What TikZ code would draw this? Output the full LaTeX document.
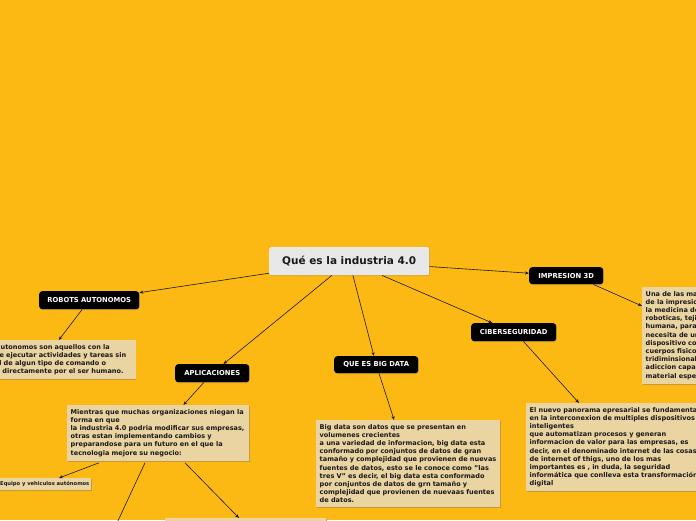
\documentclass[tikz,border=0pt]{standalone}
\usepackage{fontspec}
\setmainfont{DejaVu Sans}
\usetikzlibrary{arrows.meta,calc,shadows}
\hyphenpenalty=10000
\exhyphenpenalty=10000
\definecolor{bgc}{RGB}{253,185,19}
\definecolor{beige}{RGB}{234,212,162}
\definecolor{beigesh}{RGB}{190,150,60}
\definecolor{titlebg}{RGB}{232,232,232}
\definecolor{txt}{RGB}{25,25,25}
\tikzset{
  titlebox/.style={fill=titlebg, rounded corners=2pt, minimum width=160pt, minimum height=28pt, inner sep=0pt,
    font=\fontsize{10.5}{12}\selectfont\bfseries, text=txt,
    drop shadow={shadow xshift=0.6pt, shadow yshift=-0.8pt, fill=beigesh, opacity=0.6}},
  topic/.style={fill=black, rounded corners=3pt, inner sep=0pt, text=white,
    font=\fontsize{6.8}{7.5}\selectfont\bfseries,
    drop shadow={shadow xshift=0.6pt, shadow yshift=-0.8pt, fill=beigesh, opacity=0.8}},
  note/.style={fill=beige, anchor=north west, inner xsep=3.5pt, inner ysep=4pt, align=left, text=txt,
    font=\fontsize{6.55}{8.2}\selectfont\bfseries,
    drop shadow={shadow xshift=0.6pt, shadow yshift=-1pt, fill=beigesh, opacity=0.9}},
  conn/.style={draw=txt, line width=0.6pt, -{Stealth[length=4pt,width=3.2pt]}},
}
\begin{document}
\begin{tikzpicture}[x=1pt,y=-1pt]
\useasboundingbox (0,0) rectangle (696,520);
\fill[bgc] (0,0) rectangle (696,520);
\clip (0,0) rectangle (696,520);

% central
\node[titlebox, anchor=north west] (c) at (269,247) {Qué es la industria 4.0};

% topics
\node[topic, anchor=north west, minimum width=100pt, minimum height=18pt] (rob) at (39,291) {ROBOTS AUTONOMOS};
\node[topic, anchor=north west, minimum width=74pt, minimum height=18pt] (apl) at (175,364) {APLICACIONES};
\node[topic, anchor=north west, minimum width=84pt, minimum height=17pt] (big) at (334,356) {QUE ES BIG DATA};
\node[topic, anchor=north west, minimum width=74pt, minimum height=17pt] (imp) at (529,267) {IMPRESION 3D};
\node[topic, anchor=north west, minimum width=85pt, minimum height=18pt] (cib) at (471,323) {CIBERSEGURIDAD};

% notes
\node[note, anchor=north east, text width=177pt] (robt) at (136,340) {Los robots autonomos son aquellos con la\\
capacidad de ejecutar actividades y tareas sin\\
la necesidad de algun tipo de comando o\\
supervisado directamente por el ser humano.};

\node[note, text width=175pt, minimum height=53pt] (apt) at (67,405) {Mientras que muchas organizaciones niegan la\\
forma en que\\
la industria 4.0 podria modificar sus empresas,\\
otras estan implementando cambios y\\
preparandose para un futuro en el que la\\
tecnologia mejore su negocio:};

\node[note, text width=177pt] (bgt) at (316,420) {Big data son datos que se presentan en\\
volumenes crecientes\\
a una variedad de informacion, big data esta\\
conformado por conjuntos de datos de gran\\
tamaño y complejidad que provienen de nuevas\\
fuentes de datos, esto se le conoce como "las\\
tres V" es decir, el big data esta conformado\\
por conjuntos de datos de grn tamaño y\\
complejidad que provienen de nuevaas fuentes\\
de datos.};

\node[note, text width=160pt] (imt) at (642,287) {Una de las mayores aplicaciones\\
de la impresion 3D se encuentra en\\
la medicina debido a las protesis\\
roboticas, tejidos y piel\\
humana, para lo cual se\\
necesita de un\\
dispositivo con el que crear\\
cuerpos fisicos\\
tridiminsionales mediante la\\
adiccion capa por capa de un\\
material especial.};

\node[note, text width=196pt] (cit) at (526,403) {El nuevo panorama epresarial se fundamenta\\
en la interconexion de multiples dispositivos\\
inteligentes\\
que automatizan procesos y generan\\
informacion de valor para las empresas, es\\
decir, en el denominado internet de las cosas\\
de internet of thigs, uno de los mas\\
importantes es , in duda, la seguridad\\
informática que conlleva esta transformación\\
digital};

\node[note, inner sep=2pt, font=\fontsize{5.2}{6}\selectfont\bfseries, minimum height=12pt] (eq) at (-2,478) {Equipo y vehiculos autónomos};

\node[note, minimum width=161pt, minimum height=20pt] (bot) at (165,518) {};
\coordinate (off) at (109,540);

% connectors
\draw[conn] (c) -- (rob);
\draw[conn] (c) -- (apl);
\draw[conn] (c) -- (big);
\draw[conn] (c) -- (cib);
\draw[conn] (c) -- (imp);
\draw[conn] (rob) -- (robt);
\draw[conn] (apl) -- (apt);
\draw[conn] (big) -- (bgt);
\draw[conn] ($(imp.south east)+(-10,0)$) -- ($(imt.north west)+(0,19)$);
\draw[conn] ($(cib.south east)+(-33,0)$) -- ($(cit.north west)+(53,0)$);
\draw[conn] ($(apt.south west)+(32,2)$) -- ($(eq.north west)+(61,0)$);
\draw[conn] ($(apt.south west)+(78,2)$) -- (off);
\draw[conn] ($(apt.south west)+(118,2)$) -- ($(bot.north west)+(74,0)$);
\end{tikzpicture}
\end{document}
